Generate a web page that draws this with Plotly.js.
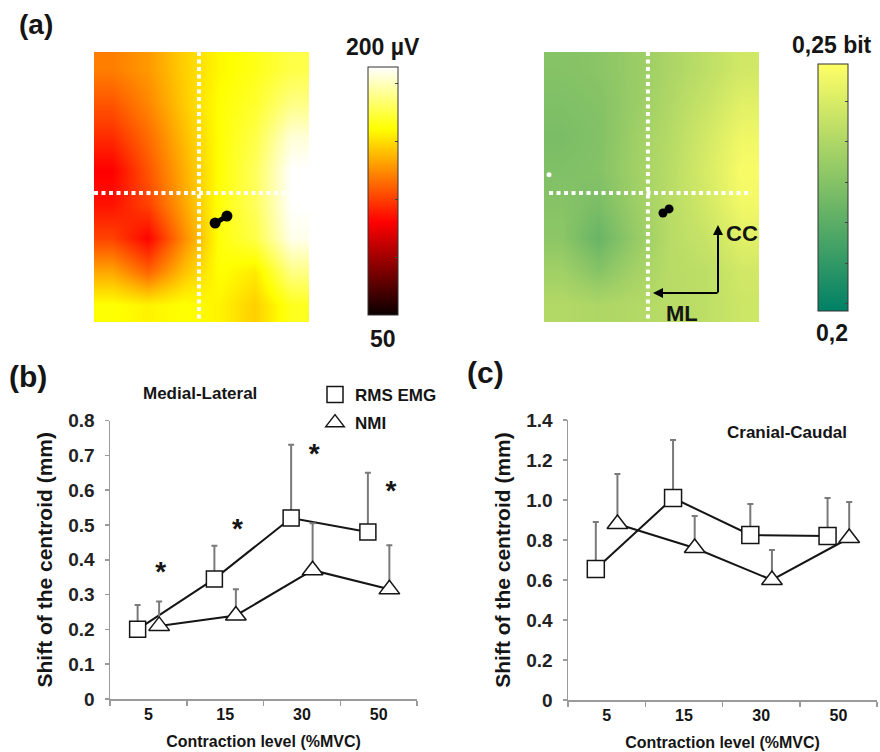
<!DOCTYPE html>
<html><head><meta charset="utf-8">
<script src="https://cdn.plot.ly/plotly-3.0.1.min.js"></script>
<style>html,body{margin:0;padding:0;background:#fff}#chart{width:880px;height:752px}</style>
</head><body><div id="chart"></div>
<script>
// ---------- Panel (a): RMS EMG map (µV), rows top -> bottom ----------
const rmsMap = [
  [134, 140, 152, 161, 166, 173],
  [125, 136, 151, 163, 169, 182],
  [116, 130, 148, 163, 173, 194],
  [106, 125, 145, 163, 176, 200],
  [110, 121, 143, 164, 176, 200],
  [121, 107, 137, 164, 173, 197],
  [143, 128, 149, 163, 158, 182],
  [163, 160, 163, 160, 152, 167]
];
// ---------- Panel (a): NMI map (bit) ----------
const nmiMap = [
  [0.2262, 0.2270, 0.2300, 0.2335, 0.2370, 0.2410],
  [0.2250, 0.2260, 0.2300, 0.2345, 0.2390, 0.2440],
  [0.2240, 0.2255, 0.2310, 0.2355, 0.2410, 0.2470],
  [0.2250, 0.2260, 0.2315, 0.2360, 0.2420, 0.2485],
  [0.2265, 0.2240, 0.2305, 0.2360, 0.2410, 0.2475],
  [0.2275, 0.2205, 0.2290, 0.2360, 0.2390, 0.2440],
  [0.2315, 0.2265, 0.2320, 0.2360, 0.2370, 0.2410],
  [0.2350, 0.2340, 0.2350, 0.2360, 0.2370, 0.2400]
];
const rmsRange = [50, 200];
const nmiRange = [0.2, 0.25];
// centroid positions (grid units) and guide lines through the grid centre
const rmsCentroidX = [2.88, 3.21];
const rmsCentroidY = [4.57, 4.36];
const nmiCentroidX = [2.82, 2.99];
const nmiCentroidY = [4.27, 4.15];
const rmsGuideVX = [2.43, 2.43], rmsGuideVY = [-0.5, 7.5];
const rmsGuideHX = [-0.5, 5.25], rmsGuideHY = [3.68, 3.68];
const nmiGuideVX = [2.40, 2.40], nmiGuideVY = [-0.5, 7.5];
const nmiGuideHX = [-0.36, 5.3], nmiGuideHY = [3.68, 3.68];

// ---------- Panels (b) and (c) ----------
const levels = ['5', '15', '30', '50'];
const mlRms = [0.20, 0.345, 0.52, 0.48];
const mlRmsSd = [0.07, 0.095, 0.21, 0.17];
const mlNmi = [0.21, 0.24, 0.37, 0.315];
const mlNmiSd = [0.07, 0.075, 0.135, 0.127];
const mlSig = [0.358, 0.483, 0.698, 0.593];
const ccRms = [0.655, 1.01, 0.825, 0.82];
const ccRmsSd = [0.235, 0.29, 0.155, 0.19];
const ccNmi = [0.88, 0.76, 0.60, 0.81];
const ccNmiSd = [0.25, 0.16, 0.15, 0.18];
const mlTicks = [0, 0.1, 0.2, 0.3, 0.4, 0.5, 0.6, 0.7, 0.8];
const mlTickText = ['0', '0.1', '0.2', '0.3', '0.4', '0.5', '0.6', '0.7', '0.8'];
const ccTicks = [0, 0.2, 0.4, 0.6, 0.8, 1.0, 1.2, 1.4];
const ccTickText = ['0', '0.2', '0.4', '0.6', '0.8', '1.0', '1.2', '1.4'];

const F = 'Liberation Sans, Arial, sans-serif';
const INK = '#151515';
const GRAY = '#9a9a9a';
const pos = levels.map((_, i) => i + 1);
const off = 0.14;
const xRms = pos.map(p => p - off);
const xNmi = pos.map(p => p + off);
const zeros = pos.map(() => 0);

const hot = [[0, 'rgb(10,0,0)'], [0.375, 'rgb(255,0,0)'], [0.75, 'rgb(255,255,0)'], [1, 'rgb(255,255,255)']];
const summer = [[0, 'rgb(0,128,102)'], [1, 'rgb(255,255,102)']];

function cb(xpx, ytop, ybot, t0, dt) {
  return {x: xpx / 880, xanchor: 'left', y: 1 - ybot / 752, yanchor: 'bottom',
    len: (ybot - ytop) / 752, lenmode: 'fraction', thickness: 30, thicknessmode: 'pixels',
    xpad: 0, ypad: 0, outlinewidth: 1, outlinecolor: '#333', showticklabels: false,
    ticks: 'inside', ticklen: 3, tickcolor: '#444', tickmode: 'linear', tick0: t0, dtick: dt};
}

const guide = (x, y, xa, ya) => ({x, y, xaxis: xa, yaxis: ya, mode: 'lines', type: 'scatter',
  line: {color: 'white', width: 4, dash: '4px,3.5px'}, hoverinfo: 'skip', showlegend: false});

function errTrace(x, y, sd, xa, ya, sym, size) {
  return {x, y, xaxis: xa, yaxis: ya, type: 'scatter', mode: 'lines+markers', showlegend: false,
    line: {color: INK, width: 2},
    marker: {symbol: sym, size, color: 'white', line: {color: INK, width: 1.5}},
    error_y: {type: 'data', symmetric: false, array: sd, arrayminus: zeros, color: '#7a7a7a', thickness: 2, width: 3}};
}

const data = [
  {type: 'heatmap', z: rmsMap, xaxis: 'x', yaxis: 'y', zsmooth: 'best', colorscale: hot,
   zmin: rmsRange[0], zmax: rmsRange[1], colorbar: cb(368, 67, 315, 50, 35), hoverinfo: 'skip'},
  {type: 'heatmap', z: nmiMap, xaxis: 'x2', yaxis: 'y2', zsmooth: 'best', colorscale: summer,
   zmin: nmiRange[0], zmax: nmiRange[1], colorbar: cb(818, 64, 311, 0.2015, 0.0082), hoverinfo: 'skip'},
  guide(rmsGuideVX, rmsGuideVY, 'x', 'y'),
  guide(rmsGuideHX, rmsGuideHY, 'x', 'y'),
  guide(nmiGuideVX, nmiGuideVY, 'x2', 'y2'),
  guide(nmiGuideHX, nmiGuideHY, 'x2', 'y2'),
  {x: [nmiGuideHX[0]], y: [3.14], xaxis: 'x2', yaxis: 'y2', type: 'scatter', mode: 'markers',
   marker: {color: 'white', size: 5}, showlegend: false, hoverinfo: 'skip'},
  {x: rmsCentroidX, y: rmsCentroidY, xaxis: 'x', yaxis: 'y', type: 'scatter', mode: 'lines+markers',
   line: {color: 'black', width: 5}, marker: {color: 'black', size: 11}, showlegend: false},
  {x: nmiCentroidX, y: nmiCentroidY, xaxis: 'x2', yaxis: 'y2', type: 'scatter', mode: 'lines+markers',
   line: {color: 'black', width: 5}, marker: {color: 'black', size: 9}, showlegend: false},
  errTrace(xRms, mlRms, mlRmsSd, 'x3', 'y3', 'square', 16),
  errTrace(xNmi, mlNmi, mlNmiSd, 'x3', 'y3', 'triangle-up', 18),
  {x: xNmi.map(v => v + 0.02), y: mlSig, xaxis: 'x3', yaxis: 'y3', type: 'scatter', mode: 'text', text: levels.map(() => '*'),
   textfont: {family: F, size: 28, weight: 'bold', color: INK}, textposition: 'middle center', showlegend: false, hoverinfo: 'skip'},
  errTrace(xRms, ccRms, ccRmsSd, 'x4', 'y4', 'square', 17),
  errTrace(xNmi, ccNmi, ccNmiSd, 'x4', 'y4', 'triangle-up', 18),
  {x: [null], y: [null], xaxis: 'x3', yaxis: 'y3', type: 'scatter', mode: 'markers', name: 'RMS EMG', legendgroup: 'a',
   marker: {symbol: 'square', size: 16, color: 'white', line: {color: INK, width: 1.5}}},
  {x: [null], y: [null], xaxis: 'x3', yaxis: 'y3', type: 'scatter', mode: 'markers', name: 'NMI', legendgroup: 'b',
   marker: {symbol: 'triangle-up', size: 16, color: 'white', line: {color: INK, width: 1.5}}}
];

const hidden = {visible: false, fixedrange: true};
function xCat(domain, anchor) {
  return {domain, anchor, range: [0.5, 4.5], tickvals: pos, ticktext: levels, ticks: '',
    showline: true, linecolor: GRAY, linewidth: 1.5, showgrid: false, zeroline: false,
    minor: {tickvals: [0.5, 1.5, 2.5, 3.5, 4.5], ticks: 'outside', ticklen: 5, tickcolor: GRAY, tickwidth: 1.5, showgrid: false},
    tickfont: {family: F, size: 16, weight: 'bold', color: INK}, ticklabelstandoff: 0,
    title: {text: 'Contraction level (%MVC)', font: {family: F, size: 16, weight: 'bold', color: INK}, standoff: 14}};
}
function yVal(domain, anchor, range, tv, tt) {
  return {domain, anchor, range, tickvals: tv, ticktext: tt, ticks: 'outside', ticklen: 4, tickcolor: GRAY, tickwidth: 1.5,
    showline: true, linecolor: GRAY, linewidth: 1.5, showgrid: false, zeroline: false,
    tickfont: {family: F, size: 19, weight: 'bold', color: '#222'}, ticklabelstandoff: 6,
    title: {text: 'Shift of the centroid (mm)', font: {family: F, size: 21, weight: 'bold', color: INK}, standoff: 10}};
}

const ann = (text, x, y, size, extra) => Object.assign({text, x: x / 880, y: 1 - y / 752, xref: 'paper', yref: 'paper',
  showarrow: false, xanchor: 'center', yanchor: 'middle', font: {family: F, size, weight: 'bold', color: INK}}, extra || {});

const layout = {
  width: 880, height: 752, margin: {l: 0, r: 0, t: 0, b: 0},
  paper_bgcolor: 'white', plot_bgcolor: 'rgba(0,0,0,0)',
  xaxis: Object.assign({domain: [94 / 880, 309 / 880], range: [-0.5, 5.5], anchor: 'y'}, hidden),
  yaxis: Object.assign({domain: [1 - 322 / 752, 1 - 52 / 752], range: [7.5, -0.5], anchor: 'x'}, hidden),
  xaxis2: Object.assign({domain: [544 / 880, 759 / 880], range: [-0.5, 5.5], anchor: 'y2'}, hidden),
  yaxis2: Object.assign({domain: [1 - 322 / 752, 1 - 52 / 752], range: [7.5, -0.5], anchor: 'x2'}, hidden),
  xaxis3: xCat([110 / 880, 417 / 880], 'y3'),
  yaxis3: yVal([1 - 699 / 752, 1 - 420.5 / 752], 'x3', [0, 0.8], mlTicks, mlTickText),
  xaxis4: xCat([568 / 880, 877 / 880], 'y4'),
  yaxis4: yVal([1 - 700 / 752, 1 - 420 / 752], 'x4', [0, 1.4], ccTicks, ccTickText),
  showlegend: true,
  legend: {x: 315 / 880, y: 1 - 377 / 752, xanchor: 'left', yanchor: 'top', bgcolor: 'rgba(0,0,0,0)',
    font: {family: F, size: 17, weight: 'bold', color: INK}, tracegroupgap: 3, traceorder: 'grouped'},
  annotations: [
    ann('(a)', 36, 25, 28),
    ann('(b)', 28, 376, 30),
    ann('(c)', 485, 372, 30),
    ann('200 µV', 383, 47, 23),
    ann('50', 383, 339, 23),
    ann('0,25 bit', 832, 45, 23),
    ann('0,2', 832, 333, 23),
    ann('CC', 742, 233, 22),
    ann('ML', 682, 313, 22),
    ann('Medial-Lateral', 200, 393, 17),
    ann('Cranial-Caudal', 787, 432, 17),
    {x: 653 / 880, y: 1 - 293 / 752, xref: 'paper', yref: 'paper', text: '', showarrow: true,
     ax: 66, ay: 0, arrowhead: 2, arrowsize: 1, arrowwidth: 2, arrowcolor: 'black', standoff: 0, startstandoff: 0},
    {x: 718 / 880, y: 1 - 225 / 752, xref: 'paper', yref: 'paper', text: '', showarrow: true,
     ax: 0, ay: 69, arrowhead: 2, arrowsize: 1, arrowwidth: 2, arrowcolor: 'black', standoff: 0, startstandoff: 0}
  ]
};

Plotly.newPlot('chart', data, layout, {displayModeBar: false, staticPlot: true});
</script>
</body></html>
